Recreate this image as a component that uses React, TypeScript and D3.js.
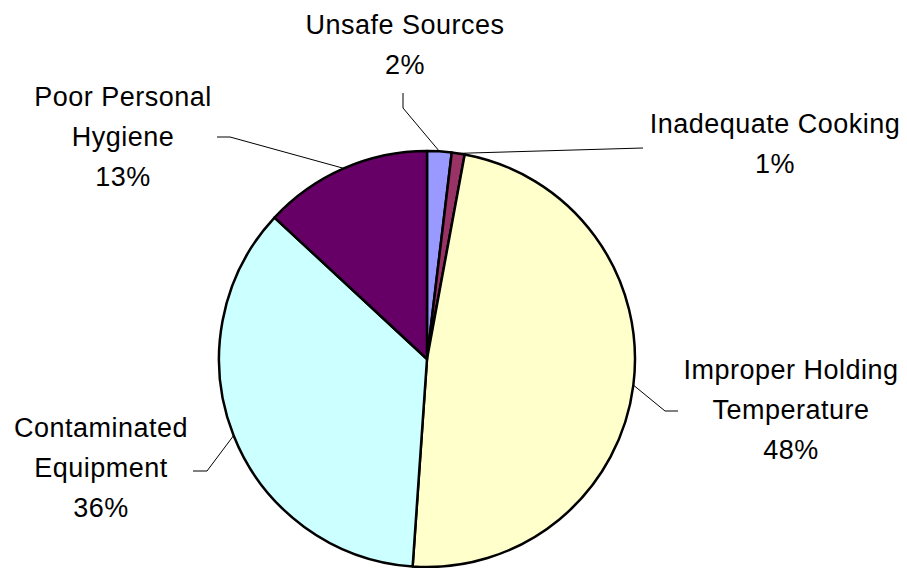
import React from "react";
import * as d3 from "d3";

const categories = [
  "Unsafe Sources",
  "Inadequate Cooking",
  "Improper Holding Temperature",
  "Contaminated Equipment",
  "Poor Personal Hygiene",
];
const values = [1.9, 1.0, 48.2, 35.8, 13.1];
const percentLabels = ["2%", "1%", "48%", "36%", "13%"];
const labelLines = [
  ["Unsafe Sources"],
  ["Inadequate Cooking"],
  ["Improper Holding", "Temperature"],
  ["Contaminated", "Equipment"],
  ["Poor Personal", "Hygiene"],
];
const colors = ["#9999FF", "#993366", "#FFFFCC", "#CCFFFF", "#660066"];

// layout of labels (text center x, first baseline y) and leader elbows
const labelLayout = [
  { x: 405, y: 34, leader: [[403, 108], [403, 93]] },
  { x: 775, y: 133, leader: [[643, 148]] },
  { x: 791, y: 379, leader: [[665, 411], [678, 411]] },
  { x: 101, y: 437, leader: [[207, 471], [193, 471]] },
  { x: 123, y: 106, leader: [[230, 137], [217, 137]] },
];

const W = 907;
const H = 568;
const cx = 427;
const cy = 359;
const R = 208;
const lineGap = 40;

export default function App() {
  const pie = d3
    .pie<number>()
    .sort(null)
    .value((d) => d);
  const arcs = pie(values);
  const arcGen = d3.arc<d3.PieArcDatum<number>>().innerRadius(0).outerRadius(R);

  return (
    <svg
      width={W}
      height={H}
      style={{ position: "absolute", left: 0, top: 0, display: "block", background: "#fff" }}
    >
      <g transform={`translate(${cx},${cy})`}>
        {arcs.map((a, i) => (
          <path
            key={categories[i]}
            d={arcGen(a) || ""}
            fill={colors[i]}
            stroke="#000"
            strokeWidth={2.5}
            strokeLinejoin="round"
          />
        ))}
      </g>
      {arcs.map((a, i) => {
        const mid = (a.startAngle + a.endAngle) / 2;
        const ex = cx + R * Math.sin(mid);
        const ey = cy - R * Math.cos(mid);
        const pts = [[ex, ey], ...labelLayout[i].leader];
        const line = d3.line()(pts as [number, number][]) || "";
        return <path key={"l" + i} d={line} fill="none" stroke="#000" strokeWidth={1} />;
      })}
      {labelLines.map((lines, i) => {
        const all = [...lines, percentLabels[i]];
        return (
          <text
            key={"t" + i}
            textAnchor="middle"
            fontFamily="'Liberation Sans', Arial, sans-serif"
            fontSize={27}
            letterSpacing={0.5}
            fill="#000"
          >
            {all.map((s, j) => (
              <tspan key={j} x={labelLayout[i].x} y={labelLayout[i].y + j * lineGap}>
                {s}
              </tspan>
            ))}
          </text>
        );
      })}
    </svg>
  );
}
